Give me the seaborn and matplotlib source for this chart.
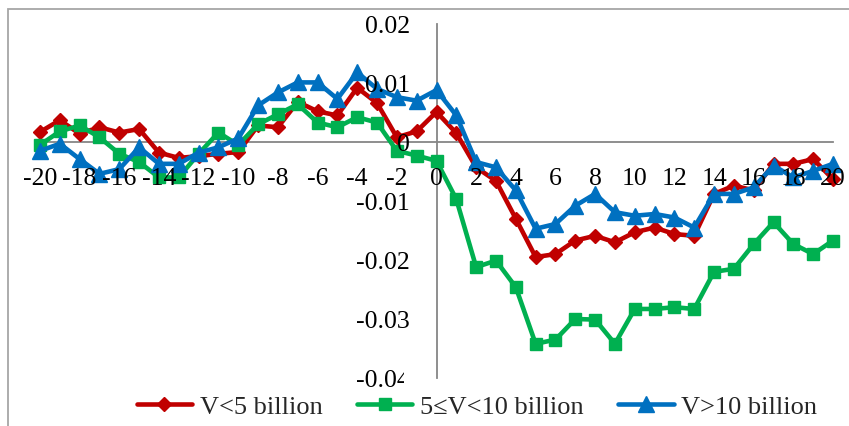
import matplotlib
matplotlib.use("Agg")
import matplotlib.pyplot as plt
from matplotlib.patches import Rectangle
from matplotlib.transforms import Bbox, TransformedBbox
import numpy as np
import pandas as pd
import seaborn as sns

# Event window (days relative to the event)
days = list(range(-20, 21))

# Cumulative abnormal returns by size group
small_cap = [0.0017, 0.0037, 0.0014, 0.0025, 0.0016, 0.0022, -0.0018, -0.0027, -0.0024, -0.0020,
             -0.0017, 0.0028, 0.0025, 0.0068, 0.0052, 0.0045, 0.0092, 0.0066, 0.0008, 0.0018,
             0.0051, 0.0015, -0.0043, -0.0066, -0.0130, -0.0195, -0.0190, -0.0167, -0.0159, -0.0170,
             -0.0153, -0.0145, -0.0156, -0.0159, -0.0088, -0.0074, -0.0082, -0.0037, -0.0037, -0.0029,
             -0.0063]
mid_cap = [-0.0005, 0.0018, 0.0028, 0.0008, -0.0020, -0.0034, -0.0060, -0.0060, -0.0020, 0.0016,
           -0.0005, 0.0030, 0.0047, 0.0064, 0.0033, 0.0025, 0.0042, 0.0033, -0.0015, -0.0023,
           -0.0032, -0.0097, -0.0212, -0.0201, -0.0246, -0.0342, -0.0335, -0.0300, -0.0301, -0.0342,
           -0.0283, -0.0283, -0.0280, -0.0283, -0.0220, -0.0215, -0.0173, -0.0136, -0.0173, -0.0190,
           -0.0167]
large_cap = [-0.0015, -0.0003, -0.0029, -0.0054, -0.0046, -0.0009, -0.0037, -0.0037, -0.0018, -0.0009,
             0.0006, 0.0062, 0.0084, 0.0101, 0.0101, 0.0073, 0.0118, 0.0090, 0.0076, 0.0070,
             0.0088, 0.0045, -0.0034, -0.0043, -0.0082, -0.0147, -0.0139, -0.0108, -0.0088, -0.0119,
             -0.0125, -0.0122, -0.0128, -0.0145, -0.0088, -0.0088, -0.0077, -0.0040, -0.0060, -0.0049,
             -0.0037]

series_names = ["V<5 billion", "5\u2264V<10 billion", "V>10 billion"]
series_colors = ["#C00000", "#00B050", "#0070C0"]
series_markers = ["D", "s", "^"]
series_msizes = [7.5, 8.5, 11]

x_ticks = list(range(-20, 21, 2))
y_ticks = [-0.04, -0.03, -0.02, -0.01, 0, 0.01, 0.02]
y_tick_labels = ["-0.04", "-0.03", "-0.02", "-0.01", "0", "0.01", "0.02"]

df = pd.DataFrame({
    "day": days * 3,
    "car": small_cap + mid_cap + large_cap,
    "group": [series_names[0]] * len(days) + [series_names[1]] * len(days) + [series_names[2]] * len(days),
})

sns.set_style("white")
plt.rcParams["font.family"] = ["Liberation Serif", "DejaVu Serif"]
plt.rcParams["axes.unicode_minus"] = False

W, H = 849, 427
fig = plt.figure(figsize=(W / 100, H / 100), dpi=100)
ax = fig.add_axes([40 / W, 1 - 379 / H, (833 - 40) / W, (379 - 25) / H])
ax.set_facecolor("none")

for name, color, marker, ms in zip(series_names, series_colors, series_markers, series_msizes):
    sub = df[df["group"] == name]
    sns.lineplot(data=sub, x="day", y="car", ax=ax, color=color, marker=marker,
                 markersize=ms, markeredgecolor=color, markeredgewidth=1,
                 linewidth=3.3, label=name, clip_on=False, errorbar=None)

ax.set_xlim(-20, 20)
ax.set_ylim(-0.04, 0.02)
ax.set_xlabel("")
ax.set_ylabel("")
# tick labels sit on top of the series
ax.set_axisbelow(False)

axis_gray = "#868686"
for side in ["top", "right"]:
    ax.spines[side].set_visible(False)
ax.spines["left"].set_position(("data", 0))
ax.spines["bottom"].set_position(("data", 0))
for side in ["left", "bottom"]:
    ax.spines[side].set_color(axis_gray)
    ax.spines[side].set_linewidth(1.3)
    ax.spines[side].set_zorder(1)

ax.set_xticks(x_ticks)
ax.set_xticklabels([str(t) for t in x_ticks])
ax.set_yticks(y_ticks)
ax.set_yticklabels(y_tick_labels)
ax.tick_params(axis="x", direction="out", length=7, width=1.3, color=axis_gray,
               pad=11, labelsize=18.5, labelcolor="black")
ax.tick_params(axis="y", direction="out", length=7, width=1.3, color=axis_gray,
               pad=12, labelsize=18.5, labelcolor="black")

# bottom y label is partly cut off at its right edge
lowest = ax.yaxis.get_major_ticks()[0].label1
lowest.set_clip_on(True)
lowest.set_clip_box(TransformedBbox(Bbox([[0, 0], [404 / W, 1]]), fig.transFigure))

ax.get_legend().remove()
handles, labels = ax.get_legend_handles_labels()
leg = fig.legend(handles, labels, loc="center", bbox_to_anchor=(477 / W, 1 - 407 / H),
                 ncol=3, frameon=True, fontsize=19, handlelength=2.1, handletextpad=0.3,
                 columnspacing=1.3, borderpad=0.2)
leg.get_frame().set_facecolor("white")
leg.get_frame().set_edgecolor("none")

# chart border
fig.add_artist(Rectangle((8 / W, -0.2), 1.5, 0.2 + 1 - 10 / H, transform=fig.transFigure,
                         fill=False, edgecolor="#A6A6A6", linewidth=1.3))

fig.savefig("out.png", dpi=100)
